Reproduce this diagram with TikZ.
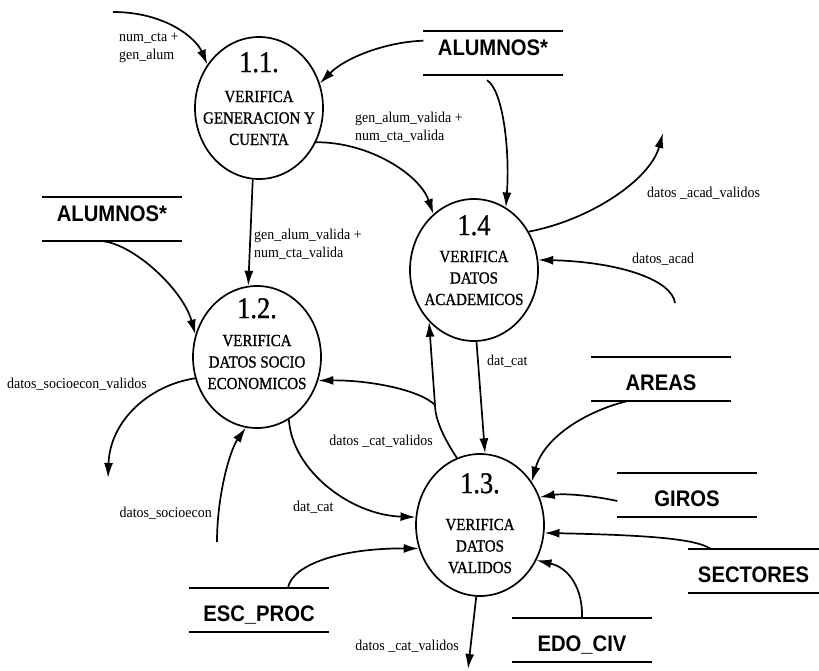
\documentclass[tikz,border=0pt]{standalone}
\usepackage{fontspec}
\setmainfont{Liberation Serif}
\setsansfont{Liberation Sans}
\newfontfamily\procfont[FakeStretch=0.88,FakeBold=1]{Liberation Serif}
\newfontfamily\flowfont[FakeStretch=0.93]{Liberation Serif}
\newfontfamily\storefont[FakeStretch=0.9]{Liberation Sans}
\usetikzlibrary{shapes.geometric,arrows.meta}

\newcommand{\ptxt}{\procfont\fontsize{17}{21.5}\selectfont}
\newcommand{\pnum}{\fontsize{30}{32}\selectfont}
\newcommand{\ftxt}{\flowfont\fontsize{15}{18}\selectfont}
\newcommand{\stxt}{\storefont\fontsize{22.5}{24}\selectfont\bfseries}

\tikzset{
  proc/.style={draw, ellipse, line width=1.7pt, minimum width=128pt, minimum height=142pt, inner sep=0pt},
  ptext/.style={align=center, font=\ptxt, inner sep=0pt, anchor=north},
  store/.style={font=\stxt, minimum width=139pt, inner sep=0pt, text height=33pt, text depth=11pt},
  flabel/.style={font=\ftxt, align=left, inner sep=0pt},
  line/.style={line width=1.7pt},
  flow/.style={line, ->},
}

\begin{document}
\begin{tikzpicture}[x=1pt, y=-1pt, >={Latex[length=15pt,width=9pt]}]
\useasboundingbox (0,0) rectangle (819,670);

\node[proc] (p11) at (259,108) {};
\node[proc] (p14) at (474,270) {};
\node[proc] (p12) at (257,357) {};
\node[proc] (p13) at (480,525) {};
\node[ptext] (t11) at (259,52) {{\pnum 1.1.}\\[8.5pt]VERIFICA\\GENERACION Y\\CUENTA};
\node[ptext] (t14) at (474,215) {{\pnum 1.4}\\[5.5pt]VERIFICA\\DATOS\\ACADEMICOS};
\node[ptext] (t12) at (257,298) {{\pnum 1.2.}\\[6.5pt]VERIFICA\\DATOS SOCIO\\ECONOMICOS};
\node[ptext] (t13) at (480,473) {{\pnum 1.3.}\\[15.5pt]VERIFICA\\DATOS\\VALIDOS};

\node[store, text height=24pt, text depth=20pt] (sa1) at (493,53) {ALUMNOS*};
\node[store, text height=24pt, text depth=20pt] (sa2) at (112,219) {ALUMNOS*};
\node[store] (ar) at (661,379) {AREAS};
\node[store] (gi) at (687,495) {GIROS};
\node[store, minimum width=131pt] (sc) at (753.5,571) {SECTORES};
\node[store] (ec) at (582,640) {EDO\_CIV};
\node[store] (ep) at (259,610) {ESC\_PROC};
\foreach \s in {sa1,sa2,ar,gi,sc,ec,ep}
  \draw[line width=1.5pt] (\s.north west) -- (\s.north east) (\s.south west) -- (\s.south east);

\coordinate (in1) at (113,12);
\coordinate (out1) at (663,133);
\coordinate (in2) at (675,303);
\coordinate (out2) at (108,478);
\coordinate (in3) at (217,542);
\coordinate (out3) at (468,669);
\coordinate (jc) at (435,405);

\draw[flow] (in1) .. controls (165,12) and (196,38) .. (p11.140);
\draw[flow] (sa1.170) .. controls (385,42) and (345,58) .. (p11.22);
\draw[flow] ([xshift=-6pt,yshift=-5pt]sa1.south) .. controls (503,90) and (510,150) .. (p14.63);
\draw[flow] (p11.329) .. controls (370,142) and (420,175) .. (p14.126);
\draw[flow] (p11.265) -- (p12.97);
\draw[flow] ([xshift=-9pt]sa2.south) .. controls (135,245) and (183,290) .. (p12.160);
\draw[flow] (p12.199) .. controls (150,385) and (110,420) .. (out2);
\draw[flow] (in3) .. controls (217,495) and (230,450) .. (p12.261);
\draw[flow] (p12.297) .. controls (292,470) and (350,515) .. (p13.173);
\draw[flow] (p14.272) -- (p13.86);
\draw[line] (p13.109) .. controls (445,440) and (435,420) .. (jc);
\draw[flow] (jc) -- (p14.229);
\draw[flow] (jc) .. controls (420,390) and (370,380) .. (p12.339);
\draw[flow] ([xshift=-34pt]ar.south) .. controls (590,410) and (545,435) .. (p13.40);
\draw[flow] ([yshift=-6pt]gi.west) .. controls (595,496) and (565,493) .. (p13.25);
\draw[flow] ([xshift=-43pt]sc.north) .. controls (695,538) and (640,535) .. (p13.353);
\draw[flow] (ec.north) .. controls (583,590) and (570,568) .. (p13.328);
\draw[flow] ([xshift=29pt]ep.north) .. controls (292,565) and (340,548) .. (p13.201);
\draw[flow] (p13.267) -- (out3);
\draw[flow] (p14.35) .. controls (590,220) and (650,180) .. (out1);
\draw[flow] (in2) .. controls (672,280) and (620,262) .. (p14.9);

\node[flabel, anchor=west] (l1) at (119,48) {num\_cta +\\gen\_alum};
\node[flabel, anchor=west] (l2) at (355,127) {gen\_alum\_valida +\\num\_cta\_valida};
\node[flabel, anchor=west] (l3) at (254,244) {gen\_alum\_valida +\\num\_cta\_valida};
\node[flabel, anchor=west] (l4) at (647,193) {datos \_acad\_validos};
\node[flabel, anchor=west] (l5) at (632,259) {datos\_acad};
\node[flabel, anchor=west] (l6) at (7,384) {datos\_socioecon\_validos};
\node[flabel, anchor=east] (l7) at (212,513) {datos\_socioecon};
\node[flabel, anchor=west] (l8) at (293,507) {dat\_cat};
\node[flabel, anchor=west] (l9) at (487,361) {dat\_cat};
\node[flabel, anchor=east] (l10) at (433,441) {datos \_cat\_validos};
\node[flabel, anchor=east] (l11) at (459,646) {datos \_cat\_validos};
\end{tikzpicture}
\end{document}
